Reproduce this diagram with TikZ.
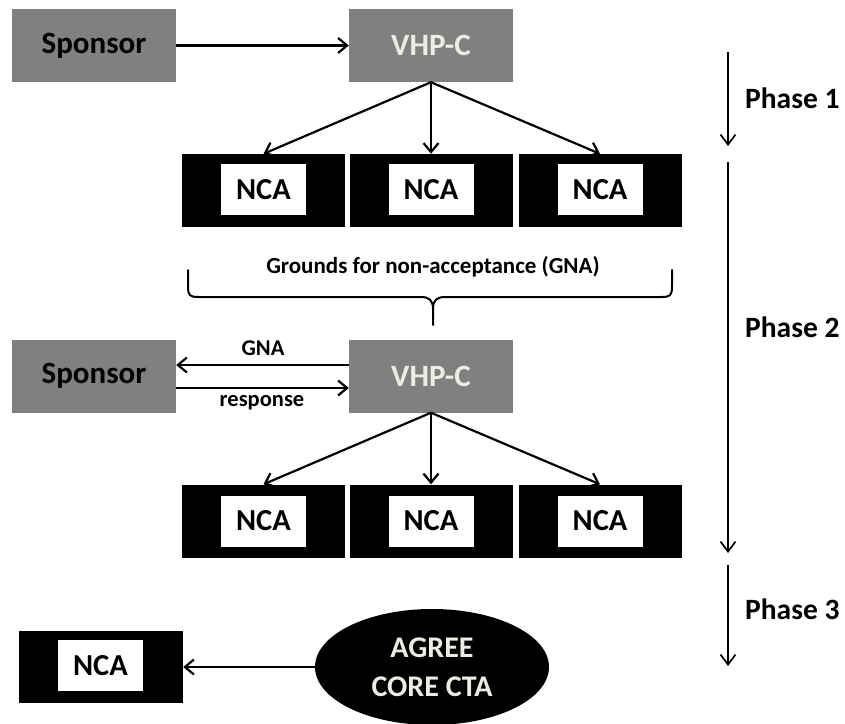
\documentclass[tikz,border=0pt]{standalone}
\usepackage{fontspec}
\setmainfont{Carlito}
\usetikzlibrary{arrows.meta,shapes.geometric}
\definecolor{boxgray}{RGB}{128,128,128}
\definecolor{lighttext}{RGB}{238,236,225}
\begin{document}
\begin{tikzpicture}[x=1pt,y=-1pt,
  graybox/.style={fill=boxgray, draw=none, minimum width=164pt, minimum height=73pt, inner sep=0pt, font=\bfseries\fontsize{31}{37}\selectfont},
  ncaouter/.style={fill=black, draw=none, minimum width=163pt, minimum height=73pt, inner sep=0pt},
  ncainner/.style={fill=white, draw=none, minimum width=85pt, minimum height=51pt, inner sep=0pt, text=black, font=\bfseries\fontsize{30.5}{36}\selectfont},
  conn/.style={line width=2.2pt, -{Straight Barb[length=9pt,width=15pt,line width=2.2pt]}},
  phasearrow/.style={line width=1.7pt, -{Straight Barb[length=10pt,width=15pt,line width=1.7pt]}},
  phaselabel/.style={anchor=west, inner sep=0pt, font=\bfseries\fontsize{29.5}{35}\selectfont},
  smalllabel/.style={inner sep=0pt, font=\bfseries\fontsize{22.5}{26}\selectfont},
  bracestyle/.style={line width=2pt, line cap=round, line join=round},
]
\useasboundingbox (0,0) rectangle (845,723);

% ---------- Phase 1 ----------
\node[graybox, text=black] (sp1) at (94,45.5) {Sponsor};
\node[graybox, text=lighttext] (vh1) at (431,45.5) {VHP-C};
\draw[conn] (sp1) -- (vh1);

\node[ncaouter] (n11o) at (263.5,190.5) {};
\node[ncaouter] (n12o) at (431,190.5) {};
\node[ncaouter] (n13o) at (600,190.5) {};
\node[ncainner] (n11) at (263.5,189.5) {NCA};
\node[ncainner] (n12) at (431,189.5) {NCA};
\node[ncainner] (n13) at (600,189.5) {NCA};
\draw[conn] (vh1.south) -- (n11o.north);
\draw[conn] (vh1.south) -- (n12o.north);
\draw[conn] (vh1.south) -- (n13o.north);

% ---------- Brace ----------
\node[smalllabel, font=\bfseries\fontsize{23}{27}\selectfont] (gna) at (433,267) {Grounds for non-acceptance (GNA)};
\draw[bracestyle] (188,270) -- (188,286) .. controls (188,296) and (190,297) .. (199,297)
  -- (421,297) .. controls (429,297) and (433,300) .. (433,309) -- (433,325);
\draw[bracestyle] (672,270) -- (672,286) .. controls (672,296) and (670,297) .. (661,297)
  -- (445,297) .. controls (437,297) and (433,300) .. (433,309);

% ---------- Phase 2 ----------
\node[graybox, text=black] (sp2) at (94,376) {Sponsor};
\node[graybox, text=lighttext] (vh2) at (431,376) {VHP-C};
\draw[conn] ([yshift=11pt]vh2.west) -- ([yshift=11pt]sp2.east);
\draw[conn] ([yshift=-12pt]sp2.east) -- ([yshift=-12pt]vh2.west);
\node[smalllabel] (lgna) at (263,348) {GNA};
\node[smalllabel] (lresp) at (262,403) {response};

\node[ncaouter] (n21o) at (263.5,521) {};
\node[ncaouter] (n22o) at (431,521) {};
\node[ncaouter] (n23o) at (600,521) {};
\node[ncainner] (n21) at (263.5,521) {NCA};
\node[ncainner] (n22) at (431,521) {NCA};
\node[ncainner] (n23) at (600,521) {NCA};
\draw[conn] (vh2.south) -- (n21o.north);
\draw[conn] (vh2.south) -- (n22o.north);
\draw[conn] (vh2.south) -- (n23o.north);

% ---------- Phase 3 ----------
\node[ncaouter, minimum width=164pt, minimum height=72pt] (n4o) at (101,667) {};
\node[ncainner] (n4) at (100.5,665.5) {NCA};
\node[ellipse, fill=black, draw=none, minimum width=234pt, minimum height=116pt, inner sep=0pt,
      text=lighttext, align=center, font=\bfseries\fontsize{30}{39}\selectfont] (agree) at (432,667) {AGREE\\CORE CTA};
\draw[conn] (agree.west) -- (n4o.east);

% ---------- Phase arrows ----------
\coordinate (p1s) at (728,52);
\coordinate (p1e) at (728,146);
\coordinate (p2s) at (728,162);
\coordinate (p2e) at (728,553);
\coordinate (p3s) at (728,565);
\coordinate (p3e) at (728,666);
\draw[phasearrow] (p1s) -- (p1e);
\draw[phasearrow] (p2s) -- (p2e);
\draw[phasearrow] (p3s) -- (p3e);
\node[phaselabel] (ph1) at (745,98) {Phase 1};
\node[phaselabel] (ph2) at (745,327) {Phase 2};
\node[phaselabel] (ph3) at (745,609) {Phase 3};
\end{tikzpicture}
\end{document}
